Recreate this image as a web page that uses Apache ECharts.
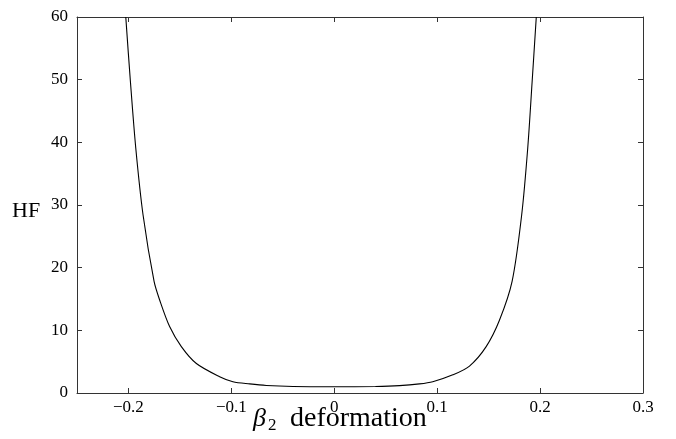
<!DOCTYPE html>
<html>
<head>
<meta charset="utf-8">
<script src="https://cdn.jsdelivr.net/npm/echarts@6/dist/echarts.min.js"></script>
<style>
  html, body { margin: 0; padding: 0; background: #fff; }
  #chart { width: 676px; height: 439px; }
</style>
</head>
<body>
<div id="chart"></div>
<script>
// beta2 values and HF
const beta2 = [-0.2026, -0.1981, -0.1929, -0.1858, -0.1751, -0.1696, -0.160, -0.1486, -0.134, -0.1114, -0.0985, -0.0822, -0.066, -0.04, 0, 0.04, 0.0634, 0.0828, 0.0957, 0.1152, 0.1314, 0.1476, 0.1605, 0.1728, 0.1821, 0.188, 0.1922, 0.1963];
const hf = [60, 49.7, 39.1, 28.4, 17.8, 14.8, 10.6, 7.4, 4.7, 2.6, 1.8, 1.45, 1.2, 1.04, 1.0, 1.04, 1.17, 1.45, 1.8, 2.9, 4.3, 7.4, 11.6, 17.8, 28.4, 39.1, 49.5, 60];
const xTicks = [-0.2, -0.1, 0, 0.1, 0.2, 0.3];

const font = "'Liberation Serif', 'DejaVu Serif', serif";
const axisColor = "#333";

const fmtX = v => (v < 0 ? "\u2212" + Math.abs(v) : String(v));

const chart = echarts.init(document.getElementById("chart"));
chart.setOption({
  animation: false,
  grid: { left: 77, right: 33, top: 17, bottom: 46 },
  xAxis: [
    {
      type: "value", min: -0.25, max: 0.3,
      splitLine: { show: false },
      axisLine: { onZero: false, lineStyle: { color: axisColor, width: 1 } },
      axisTick: { inside: true, length: 5, customValues: xTicks, lineStyle: { color: axisColor } },
      axisLabel: { customValues: xTicks, formatter: fmtX, color: "#000", fontFamily: font, fontSize: 17, margin: 6 }
    },
    {
      type: "value", min: -0.25, max: 0.3, position: "top",
      splitLine: { show: false },
      axisLine: { onZero: false, lineStyle: { color: axisColor, width: 1 } },
      axisTick: { inside: true, length: 5, customValues: xTicks, lineStyle: { color: axisColor } },
      axisLabel: { show: false }
    }
  ],
  yAxis: [
    {
      type: "value", min: 0, max: 60, interval: 10,
      splitLine: { show: false },
      axisLine: { show: true, onZero: false, lineStyle: { color: axisColor, width: 1 } },
      axisTick: { show: true, inside: true, length: 5, lineStyle: { color: axisColor } },
      axisLabel: { color: "#000", fontFamily: font, fontSize: 17, margin: 9 }
    },
    {
      type: "value", min: 0, max: 60, interval: 10, position: "right",
      splitLine: { show: false },
      axisLine: { show: true, onZero: false, lineStyle: { color: axisColor, width: 1 } },
      axisTick: { show: true, inside: true, length: 5, lineStyle: { color: axisColor } },
      axisLabel: { show: false }
    }
  ],
  series: [{
    type: "line",
    data: beta2.map((b, i) => [b, hf[i]]),
    smooth: 0.3,
    showSymbol: false,
    clip: true,
    lineStyle: { color: "#000", width: 1.1 }
  }],
  graphic: [
    { type: "text", left: 12, top: 200, style: { text: "HF", font: "22px " + font, fill: "#000" } },
    { type: "text", left: 253, top: 406, style: { text: "\u03b2", font: "italic 26px " + font, fill: "#000" } },
    { type: "text", left: 268, top: 417, style: { text: "2", font: "17px " + font, fill: "#000" } },
    { type: "text", left: 290, top: 405, style: { text: "deformation", font: "28px " + font, fill: "#000" } }
  ]
});
</script>
</body>
</html>
